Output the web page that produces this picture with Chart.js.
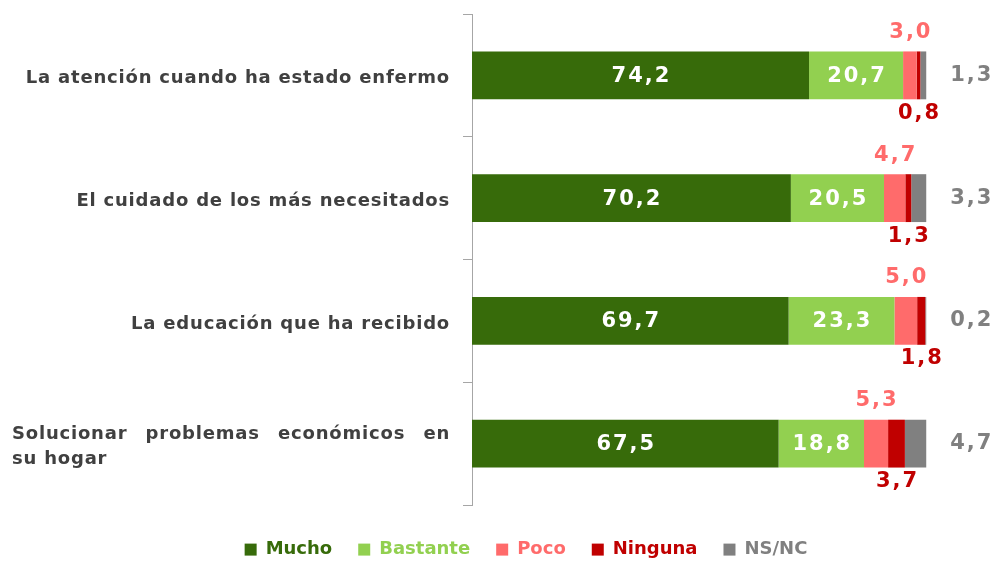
<!DOCTYPE html>
<html>
<head>
<meta charset="utf-8">
<script src="https://cdn.jsdelivr.net/npm/chart.js@4.4.1/dist/chart.umd.min.js"></script>
<style>
    html, body { margin: 0; padding: 0; background: #fff; }
    #wrap { width: 1008px; height: 561px; }
</style>
</head>
<body>
<div id="wrap"><canvas id="chart"></canvas></div>
<script>
// Categories (last one wraps on two lines)
const categories = [
    'La atención cuando ha estado enfermo',
    'El cuidado de los más necesitados',
    'La educación que ha recibido',
    ['Solucionar problemas económicos en', 'su hogar']
];

// Series values (%)
const mucho    = [74.2, 70.2, 69.7, 67.5];
const bastante = [20.7, 20.5, 23.3, 18.8];
const poco     = [3.0, 4.7, 5.0, 5.3];
const ninguna  = [0.8, 1.3, 1.8, 3.7];
const nsnc     = [1.3, 3.3, 0.2, 4.7];

const seriesNames  = ['Mucho', 'Bastante', 'Poco', 'Ninguna', 'NS/NC'];
const seriesColors = ['#376b0a', '#92d050', '#ff6b6b', '#c00000', '#808080'];
const seriesData   = [mucho, bastante, poco, ninguna, nsnc];

const FONT = '"DejaVu Sans", sans-serif';

function formatValue(v) {
    return v.toFixed(1).replace('.', ',');
}

// Category labels to the left of the axis
const categoryLabels = {
    id: 'categoryLabels',
    afterDraw(chart) {
        const ctx = chart.ctx;
        const yScale = chart.scales.y;
        const right = chart.chartArea.left - 22;
        const left = 12;
        ctx.save();
        ctx.font = 'bold 18px ' + FONT;
        ctx.letterSpacing = '0.8px';
        ctx.fillStyle = '#404040';
        ctx.textBaseline = 'middle';
        categories.forEach((label, i) => {
            const y = yScale.getPixelForValue(i) + 3;
            if (Array.isArray(label)) {
                const lh = 25;
                const y0 = y - lh / 2;
                // first line justified between left and right
                const words = label[0].split(' ');
                const widths = words.map(w => ctx.measureText(w).width);
                const total = widths.reduce((a, b) => a + b, 0);
                const gap = (right - left - total) / (words.length - 1);
                let x = left;
                ctx.textAlign = 'left';
                words.forEach((w, k) => {
                    ctx.fillText(w, x, y0);
                    x += widths[k] + gap;
                });
                ctx.fillText(label[1], left, y0 + lh);
            } else {
                ctx.textAlign = 'right';
                ctx.fillText(label, right, y);
            }
        });
        ctx.restore();
    }
};

// Value labels on / around each segment
const valueLabels = {
    id: 'valueLabels',
    afterDatasetsDraw(chart) {
        const ctx = chart.ctx;
        ctx.save();
        ctx.font = 'bold 21px ' + FONT;
        ctx.letterSpacing = '2px';
        ctx.textBaseline = 'middle';
        chart.data.datasets.forEach((ds, di) => {
            chart.getDatasetMeta(di).data.forEach((bar, i) => {
                const p = bar.getProps(['x', 'y', 'base', 'height'], true);
                const txt = formatValue(ds.data[i]);
                const cx = (p.x + p.base) / 2 + 1;
                const top = p.y - p.height / 2;
                const bottom = p.y + p.height / 2;
                if (di < 2) {
                    ctx.fillStyle = '#ffffff';
                    ctx.textAlign = 'center';
                    ctx.fillText(txt, cx, p.y + 1);
                } else if (di === 2) {
                    ctx.fillStyle = seriesColors[2];
                    ctx.textAlign = 'center';
                    ctx.fillText(txt, cx, top - 19);
                } else if (di === 3) {
                    ctx.fillStyle = seriesColors[3];
                    ctx.textAlign = 'center';
                    ctx.fillText(txt, cx, bottom + 14);
                } else {
                    ctx.fillStyle = seriesColors[4];
                    ctx.textAlign = 'left';
                    ctx.fillText(txt, p.x + 24, p.y);
                }
            });
        });
        ctx.restore();
    }
};

// Fix the legend box height so the chart area ends where the axis ends
const legendSpace = {
    id: 'legendSpace',
    beforeInit(chart) {
        const fit = chart.legend.fit;
        chart.legend.fit = function () {
            fit.call(this);
            this.height = 56;
        };
    }
};

const ctx = document.getElementById('chart').getContext('2d');
new Chart(ctx, {
    type: 'bar',
    data: {
        labels: categories,
        datasets: seriesNames.map((name, i) => ({
            label: name,
            data: seriesData[i],
            backgroundColor: seriesColors[i],
            borderWidth: 0,
            categoryPercentage: 1,
            barPercentage: 0.39
        }))
    },
    options: {
        indexAxis: 'y',
        responsive: true,
        maintainAspectRatio: false,
        animation: false,
        layout: {
            padding: { top: 14, left: 44, right: 0, bottom: 0 }
        },
        scales: {
            x: {
                stacked: true,
                display: false,
                min: 0,
                max: 118
            },
            y: {
                stacked: true,
                afterFit(scale) { scale.width = 428; },
                ticks: { display: false },
                grid: {
                    drawOnChartArea: false,
                    drawTicks: true,
                    tickLength: 9,
                    color: '#a6a6a6',
                    offset: true
                },
                border: { display: true, color: '#a6a6a6', width: 1 }
            }
        },
        plugins: {
            tooltip: { enabled: false },
            legend: {
                position: 'bottom',
                title: { display: true, text: '', font: { size: 8 }, padding: 0 },
                labels: {
                    boxWidth: 12,
                    boxHeight: 12,
                    padding: 26,
                    font: { family: FONT, size: 18, weight: 'bold' },
                    generateLabels(chart) {
                        return chart.data.datasets.map((ds, i) => ({
                            text: ds.label,
                            fillStyle: ds.backgroundColor,
                            strokeStyle: ds.backgroundColor,
                            fontColor: ds.backgroundColor,
                            lineWidth: 0,
                            hidden: false,
                            datasetIndex: i
                        }));
                    }
                }
            }
        }
    },
    plugins: [legendSpace, valueLabels, categoryLabels]
});
</script>
</body>
</html>
